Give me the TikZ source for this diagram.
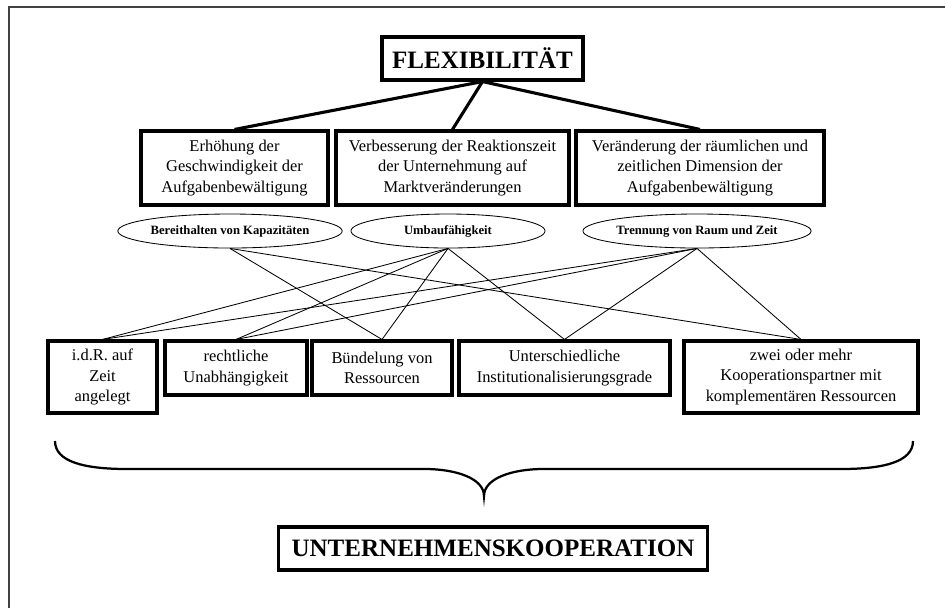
\documentclass[tikz,border=0pt]{standalone}
\usepackage{fontspec}
\setmainfont{Liberation Serif}
\usetikzlibrary{shapes.geometric}
\begin{document}
\begin{tikzpicture}[x=0.025cm, y=-0.025cm]
  \tikzstyle{headline} = [rectangle, draw=black, line width=2.2pt, font=\bfseries\fontsize{17.8}{20}\selectfont, minimum height=1.075cm, inner sep=0pt]
  \tikzstyle{aim} = [rectangle, draw=black, line width=2.2pt, align=center, font=\fontsize{11.7}{14.8}\selectfont, minimum height=1.85cm, inner sep=0pt]
  \tikzstyle{means} = [ellipse, draw=black, line width=0.6pt, font=\bfseries\fontsize{9}{11}\selectfont, minimum width=4.85cm, minimum height=0.85cm, inner sep=0pt]
  \tikzstyle{feature} = [rectangle, draw=black, line width=2.2pt, align=center, font=\fontsize{11.7}{14.4}\selectfont, inner sep=0pt]
  \tikzstyle{link} = [line width=2.2pt]
  \tikzstyle{tie} = [line width=0.6pt]

  \useasboundingbox (0,0) rectangle (945,608);
  \draw [line width=0.8pt, black!75] (945,7) -- (9,7) -- (9,608);

  \node (flex) [headline, minimum width=5.025cm] at (482.5,58.5) {FLEXIBILITÄT};

  \node (speed) [aim, minimum width=4.675cm] at (234.5,168) {Erhöhung der\\Geschwindigkeit der\\Aufgabenbewältigung};
  \node (reaction) [aim, minimum width=5.825cm] at (452.5,168) {Verbesserung der Reaktionszeit\\der Unternehmung auf\\Marktveränderungen};
  \node (space-time) [aim, minimum width=6.2cm] at (700,168) {Veränderung der räumlichen und\\zeitlichen Dimension der\\Aufgabenbewältigung};

  \draw [link] (flex.south) -- (speed.north);
  \draw [link] (flex.south) -- (reaction.north);
  \draw [link] (flex.south) -- (space-time.north);

  \node (capacity) [means] at (230,231) {Bereithalten von Kapazitäten};
  \node (rebuild) [means] at (448,231) {Umbaufähigkeit};
  \node (separation) [means] at (697,231) {Trennung von Raum und Zeit};

  \node (temporary) [feature, minimum width=2.725cm, minimum height=1.8cm] at (102.5,377) {i.d.R. auf\\Zeit\\angelegt};
  \node (legal) [feature, minimum width=3.55cm, minimum height=1.35cm] at (236,368) {rechtliche\\Unabhängigkeit};
  \node (pooling) [feature, minimum width=3.5cm, minimum height=1.35cm] at (382,368) {Bündelung von\\Ressourcen};
  \node (degrees) [feature, minimum width=5.275cm, minimum height=1.35cm] at (564.5,368) {Unterschiedliche\\Institutionalisierungsgrade};
  \node (partners) [feature, minimum width=5.85cm, minimum height=1.8cm] at (801,377) {zwei oder mehr\\Kooperationspartner mit\\komplementären Ressourcen};

  \draw [tie] (capacity.south) -- (pooling.north);
  \draw [tie] (capacity.south) -- (partners.north);
  \draw [tie] (rebuild.south) -- (temporary.north);
  \draw [tie] (rebuild.south) -- (legal.north);
  \draw [tie] (rebuild.south) -- (pooling.north);
  \draw [tie] (rebuild.south) -- (degrees.north);
  \draw [tie] (separation.south) -- (temporary.north);
  \draw [tie] (separation.south) -- (legal.north);
  \draw [tie] (separation.south) -- (degrees.north);
  \draw [tie] (separation.south) -- (partners.north);

  % brace
  \draw [line width=1.6pt] (55,441) .. controls (55,462) and (85,469) .. (127,469) -- (425,469)
    .. controls (455,469) and (484,478) .. (484,496) .. controls (484,478) and (513,469) .. (543,469)
    -- (841,469) .. controls (883,469) and (913,462) .. (913,441);

  \node (coop) [headline, minimum width=10.7cm] at (493,548.5) {UNTERNEHMENSKOOPERATION};
\end{tikzpicture}
\end{document}
